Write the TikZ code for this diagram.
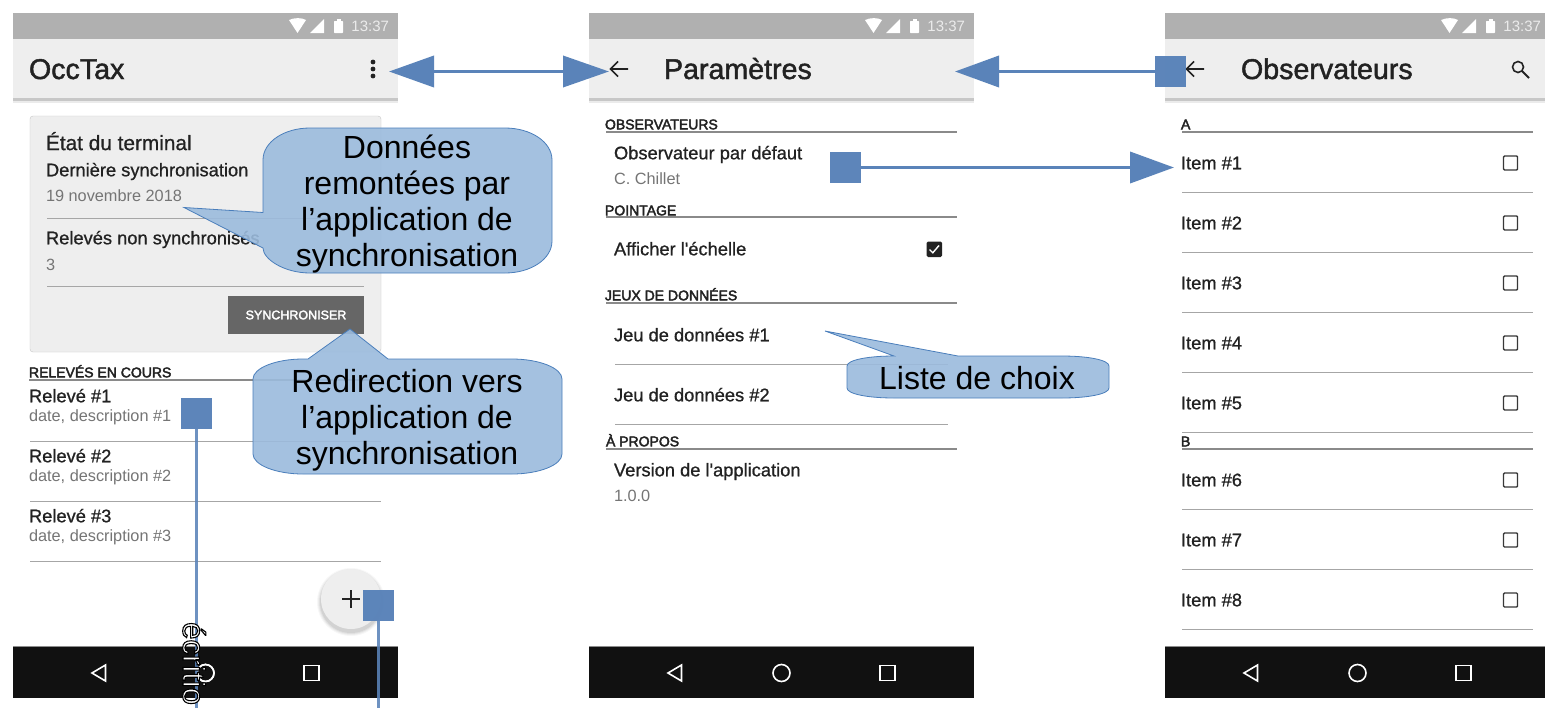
\documentclass[tikz,border=0pt]{standalone}
\usepackage{fontspec}
\setmainfont{Liberation Sans}[Ligatures=TeXOff]
\usetikzlibrary{arrows.meta}
\definecolor{txtA}{HTML}{222222}
\definecolor{txtB}{HTML}{757575}
\definecolor{barG}{HTML}{B0B0B0}
\definecolor{toolG}{HTML}{EEEEEE}
\definecolor{navK}{HTML}{111111}
\definecolor{sepG}{HTML}{A6A6A6}
\definecolor{secG}{HTML}{8A8A8A}
\definecolor{callF}{HTML}{9BBBDD}
\definecolor{callD}{HTML}{4A7EBB}
\definecolor{conn}{HTML}{5A83B9}
\newcommand{\heavy}[2]{\special{pdf:code 2 Tr #1 w}#2\special{pdf:code 0 Tr 0 w}}
\newcommand{\outlined}[1]{\special{pdf:code 2 Tr 1.1 w 0 0 0 RG}#1\special{pdf:code 0 Tr 0 w}}
\newcounter{tn}
\newcommand{\lbl}[4]{\stepcounter{tn}\node[lab,#1] (t\thetn) at (#2,#3) {#4};}
\newcommand{\rowsep}[3]{\draw[rowline] (#1,#3) -- (#2,#3);}
\newcommand{\secsep}[3]{\draw[secline] (#1,#3) -- (#2,#3);}
\newcommand{\chrome}[2]{%
 \begin{scope}[xshift=#1pt]
  \fill[barG] (0,13) rectangle (385,39);
  \fill[toolG] (0,39) rectangle (385,98);
  \fill[black!22] (0,98) rectangle (385,101);
  \fill[black!8] (0,101) rectangle (385,103);
  \fill[white] (276,20) .. controls (281,17.5) and (289,17.5) .. (293,20) -- (284.500,33) -- cycle;
  \fill[white] (297,33) -- (311,19) -- (311,33) -- cycle;
  \fill[white,rounded corners=.6pt] (321,21) rectangle (330,33);
  \fill[white] (323.500,19) rectangle (327.500,21);
  \node[inner sep=0pt,outer sep=0pt,anchor=east,text=white!92!black,font=\fontsize{15}{16}\selectfont] (#2time) at (376,26) {13:37};
  \fill[navK] (0,647) rectangle (385,698);
  \fill[black!45] (0,646) rectangle (385,647);
  \draw[white,line width=1.6pt,line join=miter] (92.500,665) -- (92.500,681) -- (79,673) -- cycle;
  \draw[white,line width=1.6pt] (192.500,673) circle (8.5);
  \draw[white,line width=1.6pt] (291,665.500) rectangle (306,680.500);
 \end{scope}}
\newcommand{\cbox}[2]{\draw[draw=txtA!90,line width=1.4pt,rounded corners=1pt] (#1-7,#2-7) rectangle (#1+7,#2+7);}
\newcommand{\backarrow}[2]{\draw[txtA,line width=1.6pt] (#1+9,#2) -- (#1-8,#2) (#1-1,#2-7.500) -- (#1-8.500,#2) -- (#1-1,#2+7.500);}
\tikzset{
 lab/.style={anchor=base west,yshift=-6.3pt,inner sep=0pt,outer sep=0pt,text=txtA,font=\fontsize{18.300}{20}\selectfont},
 title/.style={yshift=-3.7pt,font=\fontsize{28.600}{30}\selectfont},
 sub/.style={text=txtB,yshift=0.2pt,font=\fontsize{16.300}{18}\selectfont},
 sect/.style={yshift=1pt,font=\fontsize{14}{16}\selectfont},
 rowline/.style={draw=sepG,line width=1pt},
 secline/.style={draw=secG,line width=1.5pt},
 bubble/.style={fill=callF,fill opacity=.9,draw=callD,line width=.8pt},
 bubtext/.style={inner sep=0pt,text=black,align=center,font=\fontsize{32}{36}\selectfont},
 handle/.style={draw=none,fill=conn,fill opacity=.98,minimum size=31pt,inner sep=0pt,outer sep=0pt},
 link/.style={draw=conn,line width=3.700pt},
 bigtip/.style={-{Triangle[length=44pt,width=31pt,fill=conn]}},
 bigtips/.style={{Triangle[length=45pt,width=31pt,fill=conn]}-{Triangle[length=46pt,width=31pt,fill=conn]}},
}
\begin{document}
\begin{tikzpicture}[x=1pt,y=-1pt]
\useasboundingbox (0,0) rectangle (1545,707);
\clip (0,0) rectangle (1545,707);
\fill[white] (0,0) rectangle (1545,707);
\chrome{13}{a}
\chrome{589}{b}
\chrome{1165}{c}
% ---------- screen 1
\lbl{title}{29}{69}{\heavy{.45}{OccTax}}
\fill[txtA] (373,62) circle (2.4) (373,69) circle (2.4) (373,76) circle (2.4);
\draw[draw=black!22,fill=toolG,rounded corners=3pt] (30,116) rectangle (381,352);
\lbl{yshift=-0.8pt,font=\fontsize{20.8}{24}\selectfont}{46}{143}{\heavy{.15}{État du terminal}}
\lbl{}{46}{170}{\heavy{.15}{Dernière synchronisation}}
\lbl{sub}{46}{195}{19 novembre 2018}
\rowsep{47}{364}{218}
\lbl{}{46}{238}{\heavy{.15}{Relevés non synchronisés}}
\lbl{sub}{46}{264}{3}
\rowsep{47}{364}{286}
\fill[black!60] (228,296) rectangle (364,334);
\node[inner sep=0pt,outer sep=0pt,anchor=center,text=white,font=\fontsize{12.5}{14}\selectfont] (syncbtn) at (296,315) {\heavy{.3}{SYNCHRONISER}};
\lbl{sect}{29}{372}{\heavy{.4}{RELEVÉS EN COURS}}
\secsep{29}{381}{380}
\lbl{}{29}{396}{\heavy{.15}{Relevé \#1}}
\lbl{sub}{29}{415}{date, description \#1}
\rowsep{30}{381}{441}
\lbl{}{29}{456}{\heavy{.15}{Relevé \#2}}
\lbl{sub}{29}{475}{date, description \#2}
\rowsep{30}{381}{501}
\lbl{}{29}{516}{\heavy{.15}{Relevé \#3}}
\lbl{sub}{29}{535}{date, description \#3}
\rowsep{30}{381}{561}
\foreach \r/\o in {34/.03,33/.04,32/.05,31/.06}{\fill[black,opacity=\o] (351,602) circle (\r);}
\fill[toolG] (351,599) circle (30);
\draw[txtA,line width=2.2pt] (342,599) -- (360,599) (351,590) -- (351,608);
\draw[white,line width=1.6pt] (205.500,673) circle (8.5);
% ---------- screen 2
\backarrow{619}{69}
\lbl{title}{664}{69}{\heavy{.45}{Paramètres}}
\lbl{sect}{605}{124}{\heavy{.4}{OBSERVATEURS}}
\secsep{606}{957}{132}
\lbl{}{614}{153}{\heavy{.15}{Observateur par défaut}}
\lbl{sub}{614}{178}{C. Chillet}
\lbl{sect}{605}{210}{\heavy{.4}{POINTAGE}}
\secsep{606}{957}{217}
\lbl{}{614}{249}{\heavy{.15}{Afficher l'échelle}}
\fill[txtA,rounded corners=1.5pt] (926.500,241.500) rectangle (942,257);
\draw[white,line width=1.4pt] (929.500,249.500) -- (932.800,252.800) -- (939,245.500);
\lbl{sect}{605}{295}{\heavy{.4}{JEUX DE DONNÉES}}
\secsep{606}{957}{303}
\lbl{}{614}{335}{\heavy{.15}{Jeu de données \#1}}
\rowsep{615}{948}{364}
\lbl{}{614}{395}{\heavy{.15}{Jeu de données \#2}}
\rowsep{615}{948}{424}
\lbl{sect}{606}{441}{\heavy{.4}{À PROPOS}}
\secsep{606}{957}{449}
\lbl{}{614}{470}{\heavy{.15}{Version de l'application}}
\lbl{sub}{614}{495}{1.0.0}
% ---------- screen 3
\backarrow{1195}{69}
\lbl{title}{1241}{69}{\heavy{.45}{Observateurs}}
\draw[txtA,line width=1.6pt] (1518,67) circle (5.5);
\draw[txtA,line width=2pt] (1522,71) -- (1529,78);
\lbl{sect}{1181}{124}{\heavy{.4}{A}}
\secsep{1182}{1533}{132}
\foreach \n/\ty/\ly in {1/163/192,2/223/252,3/283/312,4/343/372,5/403/432,6/480/509,7/540/569,8/600/629}{
 \lbl{}{1181}{\ty}{\heavy{.15}{Item \#\n}}
 \cbox{1510.500}{\ty}
 \rowsep{1182}{1533}{\ly}
}
\lbl{sect}{1181}{441}{\heavy{.4}{B}}
\secsep{1182}{1533}{449}
% ---------- callouts
\draw[bubble] (263,160) .. controls (263,142) and (284,128) .. (310,128) -- (505,128) .. controls (531,128) and (552,142) .. (552,160) -- (552,241) .. controls (552,259) and (531,273) .. (505,273) -- (310,273) .. controls (284,273) and (263,259) .. (263,248) -- (184,207.500) -- (263,212.500) -- cycle;
\node[bubtext] (call1) at (407,204) {Données\\remontées par\\l’application de\\synchronisation};
\draw[bubble] (253,379) .. controls (253,368) and (276,359) .. (303,359) -- (308,359) -- (350,329) -- (388,359) -- (512,359) .. controls (539,359) and (562,368) .. (562,379) -- (562,454) .. controls (562,465) and (539,474) .. (512,474) -- (303,474) .. controls (276,474) and (253,465) .. (253,454) -- cycle;
\node[bubtext] (call2) at (407,420) {Redirection vers\\l’application de\\synchronisation};
\draw[bubble] (847,366) .. controls (847,360) and (868,356) .. (894,356) -- (825,331) -- (958,356) -- (1062,356) .. controls (1088,356) and (1109,360) .. (1109,366) -- (1109,388) .. controls (1109,394) and (1088,398) .. (1062,398) -- (894,398) .. controls (868,398) and (847,394) .. (847,388) -- cycle;
\node[bubtext] (call3) at (977,378) {Liste de choix};
% ---------- connectors
\coordinate (menu) at (389,71.500);
\coordinate (back) at (609,71.500);
\draw[link,bigtips] (menu) -- (back);
\node[handle] (hobs) at (1170,71.500) {};
\coordinate (scr2) at (955,71.500);
\draw[link,bigtip] (hobs) -- (scr2);
\node[handle] (hdef) at (845.500,167.500) {};
\coordinate (item) at (1174,167.500);
\draw[link,bigtip] (hdef) -- (item);
\node[handle] (hrel) at (196.500,413.500) {};
\coordinate (relend) at (196.500,720);
\draw[link,draw opacity=.88] (hrel) -- (relend);
\node[handle] (hfab) at (378.500,605.500) {};
\coordinate (fabend) at (378.500,720);
\draw[link,draw opacity=.88] (hfab) -- (fabend);
\node[inner sep=0pt,rotate=-90,anchor=base west,text=white,font=\fontsize{31}{36}\selectfont] (ecrW) at (183,622) {\outlined{écritio}};
\end{tikzpicture}
\end{document}
